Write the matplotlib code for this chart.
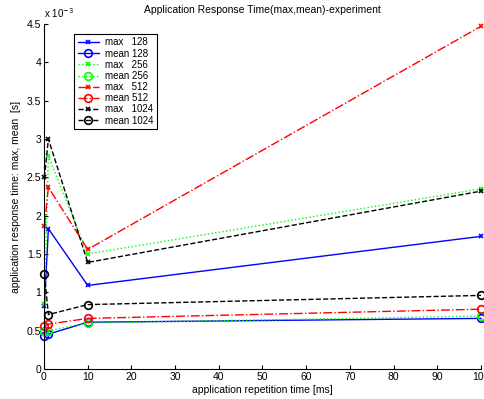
import matplotlib
matplotlib.use("Agg")
import matplotlib.pyplot as plt

plt.rcParams['font.family'] = ['Liberation Sans', 'DejaVu Sans']

x = [0.1, 1, 10, 100]
max_128 = [0.82, 1.83, 1.09, 1.73]
mean_128 = [0.43, 0.455, 0.61, 0.66]
max_256 = [0.85, 2.78, 1.50, 2.35]
mean_256 = [0.49, 0.50, 0.60, 0.69]
max_512 = [1.86, 2.37, 1.56, 4.47]
mean_512 = [0.56, 0.585, 0.66, 0.78]
max_1024 = [2.50, 3.00, 1.39, 2.32]
mean_1024 = [1.235, 0.71, 0.84, 0.96]

labels = ['max   128', 'mean 128', 'max   256', 'mean 256',
          'max   512', 'mean 512', 'max   1024', 'mean 1024']

fig = plt.figure(figsize=(4.85, 3.99), dpi=100)
ax = fig.add_axes([44/485, 1-369/399, 437/485, 345/399])

series = [
    (max_128, 'b', '-', 'x'), (mean_128, 'b', '-', 'o'),
    (max_256, '#00ff00', ':', 'x'), (mean_256, '#00ff00', ':', 'o'),
    (max_512, 'r', '-.', 'x'), (mean_512, 'r', '-.', 'o'),
    (max_1024, 'k', '--', 'x'), (mean_1024, 'k', '--', 'o'),
]
for (vals, c, ls, m), lab in zip(series, labels):
    if m == 'o':
        ax.plot(x, vals, color=c, linestyle=ls, marker='o', markersize=5.5,
                markerfacecolor='none', markeredgewidth=1.2, linewidth=1,
                label=lab, clip_on=False)
    else:
        ax.plot(x, vals, color=c, linestyle=ls, marker='x', markersize=3.5,
                markeredgewidth=1.2, linewidth=1, label=lab, clip_on=False)

ax.set_xlim(0, 100)
ax.set_ylim(0, 4.5)
ax.set_xticks(range(0, 101, 10))
ax.set_yticks([0, 0.5, 1, 1.5, 2, 2.5, 3, 3.5, 4, 4.5])
ax.set_yticklabels(['0', '0.5', '1', '1.5', '2', '2.5', '3', '3.5', '4', '4.5'])
ax.spines['top'].set_visible(False)
ax.spines['right'].set_visible(False)
ax.tick_params(direction='in', labelsize=7.5, length=3, width=0.8, pad=2)
for s in ['left', 'bottom']:
    ax.spines[s].set_linewidth(0.8)
ax.set_title('Application Response Time(max,mean)-experiment', fontsize=7.5, pad=8)
ax.set_xlabel('application repetition time [ms]', fontsize=7.5, labelpad=2)
ax.set_ylabel('application response time: max, mean  [s]', fontsize=7.5, labelpad=4)
ax.text(0.0, 1.012, r'x 10$^{-3}$', transform=ax.transAxes, fontsize=7, ha='left', va='bottom')

leg = ax.legend(loc='upper left', bbox_to_anchor=(0.069, 0.971), borderaxespad=0,
                fontsize=7, labelspacing=0.12, handlelength=2.2, handletextpad=0.6,
                fancybox=False, framealpha=1, edgecolor='k', borderpad=0.35)
leg.get_frame().set_linewidth(0.8)

fig.savefig('out.png', dpi=100)
